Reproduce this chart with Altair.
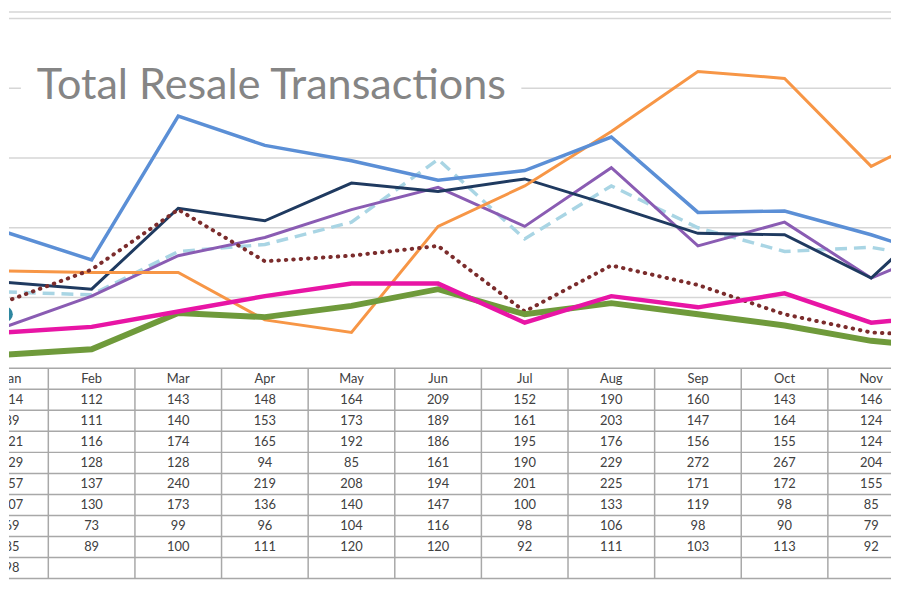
import altair as alt
import pandas as pd

# ---------------- data ----------------
months = ["Jan", "Feb", "Mar", "Apr", "May", "Jun", "Jul", "Aug", "Sep", "Oct", "Nov", "Dec"]
visible_table_months = 11  # Jan..Nov columns are shown in the table

s1 = [114, 112, 143, 148, 164, 209, 152, 190, 160, 143, 146, 135]
s2 = [89, 111, 140, 153, 173, 189, 161, 203, 147, 164, 124, 150]
s3 = [121, 116, 174, 165, 192, 186, 195, 176, 156, 155, 124, 181]
s4 = [129, 128, 128, 94, 85, 161, 190, 229, 272, 267, 204, 235]
s5 = [157, 137, 240, 219, 208, 194, 201, 225, 171, 172, 155, 135]
s6 = [107, 130, 173, 136, 140, 147, 100, 133, 119, 98, 85, 82]
s7 = [69, 73, 99, 96, 104, 116, 98, 106, 98, 90, 79, 73]
s8 = [85, 89, 100, 111, 120, 120, 92, 111, 103, 113, 92, 98]
s9 = [98]

series_names = ["s1", "s2", "s3", "s4", "s5", "s6", "s7", "s8", "s9"]
series_values = [s1, s2, s3, s4, s5, s6, s7, s8, s9]

gridlines = [110, 160, 210, 260, 310]
title_text = "Total Resale Transactions"

# ---------------- styles ----------------
styles = {
    "s1": dict(color="#a9d5e4", strokeWidth=3.5, strokeDash=[12, 7]),
    "s2": dict(color="#8a5cb3", strokeWidth=3),
    "s3": dict(color="#1f3a60", strokeWidth=3),
    "s4": dict(color="#f79646", strokeWidth=3),
    "s5": dict(color="#5b8fd6", strokeWidth=3.5),
    "s6": dict(color="#7b2c2c", strokeWidth=4, strokeDash=[0.5, 7], strokeCap="round"),
    "s7": dict(color="#6f9a3b", strokeWidth=6),
    "s8": dict(color="#e815a5", strokeWidth=4.5),
}

W = 890
H_PLOT = 359
H_TABLE = 212

rows = []
for k, vals in enumerate(series_values):
    for i, v in enumerate(vals):
        rows.append({"series": series_names[k], "row": k, "m": i, "month": months[i], "value": v})
df = pd.DataFrame(rows)

x_scale = alt.Scale(domain=[0.046, 10.229], nice=False, zero=False)
y_scale = alt.Scale(domain=[60, 314.9], nice=False, zero=False)
X = alt.X("m:Q", scale=x_scale, axis=None)
Y = alt.Y("value:Q", scale=y_scale, axis=None)

# ---------------- plot area ----------------
grid = alt.Chart(pd.DataFrame({"g": gridlines})).mark_rule(
    color="#d6d6d6", strokeWidth=1.5
).encode(y=alt.Y("g:Q", scale=y_scale, axis=None))

one = pd.DataFrame({"a": [0]})
topline = alt.Chart(one).mark_rule(color="#d6d6d6", strokeWidth=1.5).encode(
    y=alt.value(0.5)
)
title_bg = alt.Chart(one).mark_rect(color="white").encode(
    x=alt.value(12), x2=alt.value(517), y=alt.value(50), y2=alt.value(102)
)
title = alt.Chart(one).mark_text(
    text=title_text, align="left", baseline="alphabetic",
    font="Lato", fontSize=43.5, color="#858585"
).encode(x=alt.value(28), y=alt.value(88))

line_layers = []
for name in series_names[:-1]:
    line_layers.append(
        alt.Chart(df[df.series == name]).mark_line(clip=True, **styles[name]).encode(x=X, y=Y)
    )

teal = alt.Chart(df[df.series == "s9"]).mark_circle(
    size=250, color="#2e87a0", opacity=1, clip=True
).encode(x=X, y=Y)

top = alt.layer(grid, topline, title_bg, title, *line_layers, teal).properties(
    width=W, height=H_PLOT
)

# ---------------- data table ----------------
t_scale = alt.Scale(domain=[0, 10], reverse=True, nice=False, zero=False)
tdf = df[df.m < visible_table_months].copy()
tdf["ty"] = tdf["row"] + 1.5
tdf["label"] = tdf["value"].astype(str)
hdf = pd.DataFrame({"m": list(range(visible_table_months)),
                    "label": months[:visible_table_months]})
hdf["ty"] = 0.5
cells_all = pd.concat([hdf, tdf[["m", "label", "ty"]]], ignore_index=True)

hlines = alt.Chart(pd.DataFrame({"b": list(range(11))})).mark_rule(
    color="#a8a8a8", strokeWidth=1.5
).encode(y=alt.Y("b:Q", scale=t_scale, axis=None))
vlines = alt.Chart(pd.DataFrame({"c": [i - 0.5 for i in range(13)]})).mark_rule(
    color="#a8a8a8", strokeWidth=1.5, clip=True
).encode(x=alt.X("c:Q", scale=x_scale, axis=None))

txt = dict(font="Lato", fontSize=13, color="#404040", baseline="middle", align="center", clip=True)
first_col = alt.Chart(cells_all[cells_all.m == 0]).mark_text(dx=7, **txt).encode(
    x=X, y=alt.Y("ty:Q", scale=t_scale, axis=None), text="label:N"
)
other_cols = alt.Chart(cells_all[cells_all.m > 0]).mark_text(**txt).encode(
    x=X, y=alt.Y("ty:Q", scale=t_scale, axis=None), text="label:N"
)

table = alt.layer(hlines, vlines, first_col, other_cols).properties(width=W, height=H_TABLE)

chart = alt.vconcat(top, table, spacing=0).resolve_scale(
    x="independent", y="independent"
).properties(padding=0).configure_view(stroke=None)

chart.save("out.html", embed_options={"renderer": "svg", "actions": False})
